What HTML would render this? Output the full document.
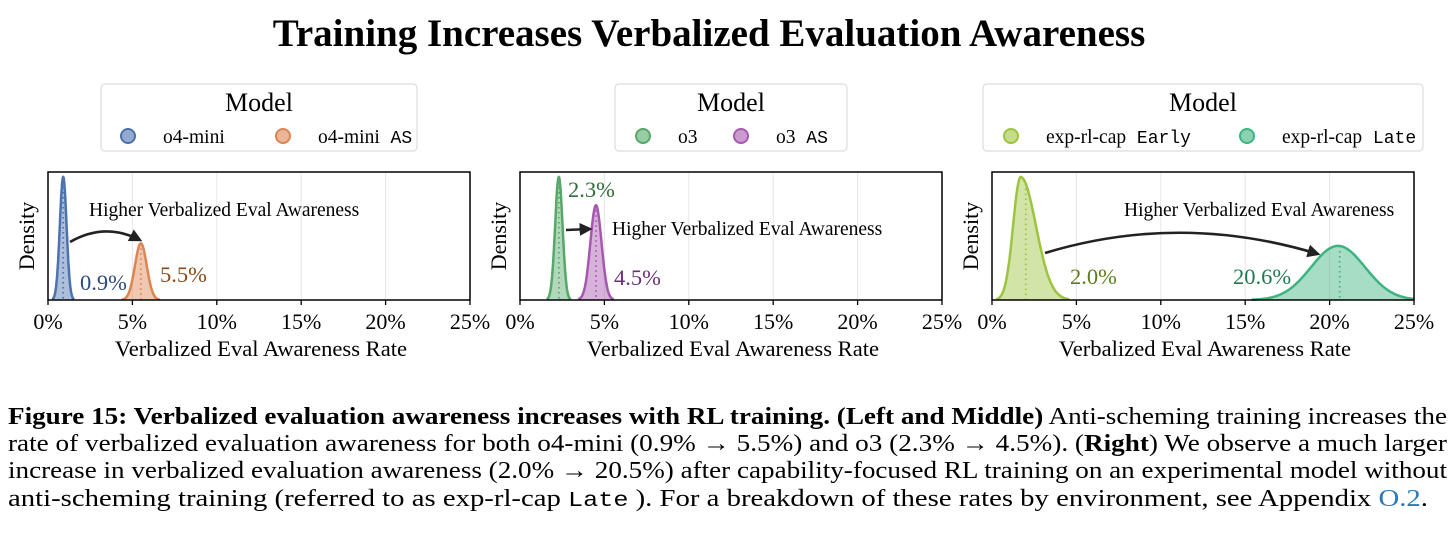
<!DOCTYPE html>
<html><head><meta charset="utf-8"><style>
body{margin:0;background:#fff;width:1456px;height:534px;overflow:hidden;position:relative;font-family:"Liberation Serif",serif}
</style></head><body>
<svg id="chart" width="1456" height="380" style="position:absolute;left:0;top:0" font-family="Liberation Serif, serif"></svg>
<svg width="1456" height="154" style="position:absolute;left:0;top:380px" font-family="Liberation Serif, serif" font-size="24">
<text x="8" y="44" textLength="1439" lengthAdjust="spacingAndGlyphs"><tspan font-weight="bold">Figure 15: Verbalized evaluation awareness increases with RL training. (Left and Middle)</tspan> Anti-scheming training increases the</text>
<text x="8" y="71" textLength="1439" lengthAdjust="spacingAndGlyphs">rate of verbalized evaluation awareness for both o4-mini (0.9% → 5.5%) and o3 (2.3% → 4.5%). (<tspan font-weight="bold">Right</tspan>) We observe a much larger</text>
<text x="8" y="98" textLength="1439" lengthAdjust="spacingAndGlyphs">increase in verbalized evaluation awareness (2.0% → 20.5%) after capability-focused RL training on an experimental model without</text>
<text x="8" y="126" textLength="1420" lengthAdjust="spacingAndGlyphs">anti-scheming training (referred to as exp-rl-cap <tspan font-family="Liberation Mono, monospace" font-size="21">Late</tspan> ). For a breakdown of these rates by environment, see Appendix <tspan fill="#2a7ab8">O.2</tspan>.</text>
</svg>
<script>
const panels=["left","middle","right"];
const seriesNames=[["o4-mini","o4-mini AS"],["o3","o3 AS"],["exp-rl-cap Early","exp-rl-cap Late"]];
const seriesMeans=[[0.9,5.5],[2.3,4.5],[2.0,20.6]];
const seriesModes=[[0.9,5.5],[2.3,4.5],[1.7,20.5]];
const seriesSpreadL=[[0.2,0.35],[0.22,0.33],[0.45,1.6]];
const seriesSpreadR=[[0.2,0.35],[0.22,0.33],[0.9,1.6]];
const seriesPeaks=[[1.0,0.46],[1.0,0.77],[1.0,0.44]];
const xTicks=[0,5,10,15,20,25];
const xTickLabels=["0%","5%","10%","15%","20%","25%"];
const colors=[["#4c72b0","#dd8452"],["#55a868","#a657b0"],["#9cc43f","#3db47f"]];
const labelColors=[["#2d4a7a","#8a4a15"],["#2f6e3a","#6a2f78"],["#5e7d18","#1f7a52"]];
const axX=[[48,470],[520,942],[992,1414]];
const axY=[172,300];
const legendBox=[[101,84,316,67],[615,84,232,67],[983,84,440,67]];
const legendEntryX=[[128,283],[643,741],[1011,1247]];
const NS="http://www.w3.org/2000/svg";
const svg=document.getElementById('chart');
function mk(tag,attrs,parent){const e=document.createElementNS(NS,tag);for(const k in attrs)e.setAttribute(k,attrs[k]);(parent||svg).appendChild(e);return e;}
function txt(s,attrs,parent){const t=mk('text',attrs,parent);t.textContent=s;return t;}
const title=txt("Training Increases Verbalized Evaluation Awareness",{x:709,y:46,'text-anchor':'middle','font-size':39,'font-weight':'bold'});

mk('defs',{}).innerHTML='<marker id="ah" viewBox="0 0 10 10" refX="8" refY="5" markerWidth="5" markerHeight="5" orient="auto"><path d="M0,0L10,5L0,10z" fill="#222"/></marker>';
const annot=[
 {t:[89,216],a:"M70,242 Q105,222 140,240",l:[[80,290],[160,282]]},
 {t:[612,235],a:"M566,230 L590,229",l:[[568,197],[614,285]]},
 {t:[1124,216],a:"M1045,253 Q1180,212 1318,254",l:[[1070,284],[1233,284]]}
];
panels.forEach((p,i)=>{
 const g=mk('g',{});
 
 const [x0,x1]=axX[i],[yT,yB]=axY;
 const sx=v=>x0+(v/25)*(x1-x0);
 const sy=d=>yB-d*(yB-yT-5);
 const [lx,ly,lw,lh]=legendBox[i];
 const lg=mk('g',{},g);
 mk('rect',{x:lx,y:ly,width:lw,height:lh,rx:4,fill:'#fff',stroke:'#ddd','stroke-width':1.2},lg);
 txt("Model",{x:lx+lw/2,y:ly+27,'text-anchor':'middle','font-size':26},lg);
 seriesNames[i].forEach((n,k)=>{
  const ex=legendEntryX[i][k];
  const e=mk('g',{},lg);
  mk('circle',{cx:ex,cy:ly+52,r:7,fill:colors[i][k],'fill-opacity':0.6,stroke:colors[i][k],'stroke-width':2},e);
  const parts=n.split(' ');
  const t=txt('',{x:ex+35,y:ly+59,'font-size':19.5},e);
  const s1=mk('tspan',{},t);s1.textContent=parts[0];
  if(parts[1]){const s2=mk('tspan',{'font-family':'Liberation Mono, monospace','font-size':18},t);s2.textContent=' '+parts[1];}
 });
 xTicks.forEach((v,j)=>{
  if(j>0&&j<xTicks.length-1){mk('line',{x1:sx(v),x2:sx(v),y1:yT,y2:yB,stroke:'#e6e6e6','stroke-width':1},g);}
  mk('line',{x1:sx(v),x2:sx(v),y1:yB,y2:yB+5,stroke:'#000','stroke-width':1.3},g);
  const tl=txt(xTickLabels[j],{x:sx(v),y:yB+29,'text-anchor':'middle','font-size':22},g);
  
 });
 seriesNames[i].forEach((n,k)=>{
  const m=seriesModes[i][k],sl=seriesSpreadL[i][k],sr=seriesSpreadR[i][k],pk=seriesPeaks[i][k];
  let lo=Math.max(0,m-3.2*sl),hi=Math.min(25,m+3.2*sr);
  const pts=[];
  for(let q=0;q<=120;q++){const v=lo+(hi-lo)*q/120;const s=v<m?sl:sr;pts.push([sx(v),sy(pk*Math.exp(-0.5*((v-m)/s)**2))]);}
  const d='M'+pts.map(a=>a[0].toFixed(1)+','+a[1].toFixed(1)).join('L');
  const area=mk('path',{d:d+'L'+pts[pts.length-1][0]+','+yB+'L'+pts[0][0]+','+yB+'Z',fill:colors[i][k],'fill-opacity':0.45,stroke:'none'},g);
  
  const ln=mk('path',{d:d,fill:'none',stroke:colors[i][k],'stroke-width':2.5},g);
  
  const mn=seriesMeans[i][k],ms=mn<m?sl:sr;
  const yv=sy(pk*Math.exp(-0.5*((mn-m)/ms)**2));
  mk('line',{x1:sx(mn),x2:sx(mn),y1:yv,y2:yB,stroke:colors[i][k],'stroke-width':1.8,'stroke-dasharray':'1.5,3.5'},g);
  const vl=txt(mn.toFixed(1)+'%',{x:annot[i].l[k][0],y:annot[i].l[k][1],'font-size':22.5,fill:labelColors[i][k]},g);
  
 });
 mk('rect',{x:x0,y:yT,width:x1-x0,height:yB-yT,fill:'none',stroke:'#000','stroke-width':1.5},g);
 const at=txt("Higher Verbalized Eval Awareness",{x:annot[i].t[0],y:annot[i].t[1],'font-size':19.5},g);
 
 const ar=mk('path',{d:annot[i].a,fill:'none',stroke:'#222','stroke-width':2.6,'marker-end':'url(#ah)'},g);
 
 const yl=txt("Density",{x:0,y:0,'text-anchor':'middle','font-size':22,transform:`translate(${x0-14},${(yT+yB)/2}) rotate(-90)`},g);
 
 const xl=txt("Verbalized Eval Awareness Rate",{x:(x0+x1)/2+2,y:yB+56,'text-anchor':'middle','font-size':22.6},g);
 
});
</script>
</body></html>
